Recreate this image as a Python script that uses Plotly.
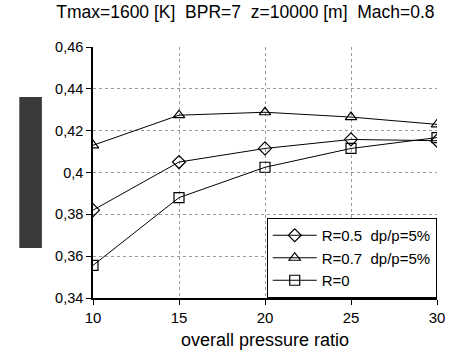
import plotly.graph_objects as go

x_opr = [10, 15, 20, 25, 30]
r05_dp5 = [0.382, 0.405, 0.4115, 0.4158, 0.4152]
r07_dp5 = [0.413, 0.4274, 0.4288, 0.4265, 0.423]
r0 = [0.3556, 0.388, 0.4025, 0.4115, 0.4167]

y_ticks = [0.34, 0.36, 0.38, 0.40, 0.42, 0.44, 0.46]
y_ticktext = ["0,34", "0,36", "0,38", "0,4", "0,42", "0,44", "0,46"]
x_ticks = [10, 15, 20, 25, 30]

title_text = "Tmax=1600 [K]  BPR=7  z=10000 [m]  Mach=0.8"
x_title = "overall pressure ratio"

fig = go.Figure()
series = [
    ("R=0.5  dp/p=5%", r05_dp5, "diamond-open"),
    ("R=0.7  dp/p=5%", r07_dp5, "triangle-up-open"),
    ("R=0", r0, "square-open"),
]
for name, vals, sym in series:
    fig.add_trace(go.Scatter(
        x=x_opr, y=vals, name=name, mode="lines+markers",
        line=dict(color="black", width=1),
        marker=dict(symbol=sym, size=10, color="black", line=dict(width=1.2, color="black")),
    ))

fig.update_layout(
    width=457, height=360,
    margin=dict(l=93, r=14, t=47, b=62),
    paper_bgcolor="white", plot_bgcolor="white",
    font=dict(family="Liberation Sans, Arial, sans-serif", size=14, color="black"),
    title=dict(text=title_text, x=0.537, xanchor="center", y=0.985, yanchor="top",
               font=dict(size=17.5)),
    showlegend=True,
    legend=dict(x=0.505, xanchor="left", y=0, yanchor="bottom",
                bgcolor="white", bordercolor="black", borderwidth=1,
                font=dict(size=15), tracegroupgap=0, itemwidth=44),
)
fig.update_xaxes(
    range=[10, 30], tickvals=x_ticks, ticktext=[str(v) for v in x_ticks],
    showgrid=True, gridcolor="#9a9a9a", griddash="dot", gridwidth=1,
    showline=True, linecolor="black", linewidth=1.5,
    ticks="outside", ticklen=5, tickcolor="black",
    tickfont=dict(size=15),
    title=dict(text=x_title, font=dict(size=18), standoff=9),
    zeroline=False,
)
fig.update_yaxes(
    range=[0.34, 0.46], tickvals=y_ticks, ticktext=y_ticktext,
    showgrid=True, gridcolor="#9a9a9a", griddash="dot", gridwidth=1,
    showline=True, linecolor="black", linewidth=1.5,
    ticks="outside", ticklen=5, tickcolor="black",
    tickfont=dict(size=14.5),
    zeroline=False,
)
# dark block left of axis (as in reference)
fig.add_shape(type="rect", xref="paper", yref="paper",
              x0=(18 - 93) / 350, x1=(41 - 93) / 350,
              y0=(298 - 248) / 251, y1=(298 - 97) / 251,
              fillcolor="#3a3a3a", line=dict(width=0), layer="above")

fig.write_html("out.html")
